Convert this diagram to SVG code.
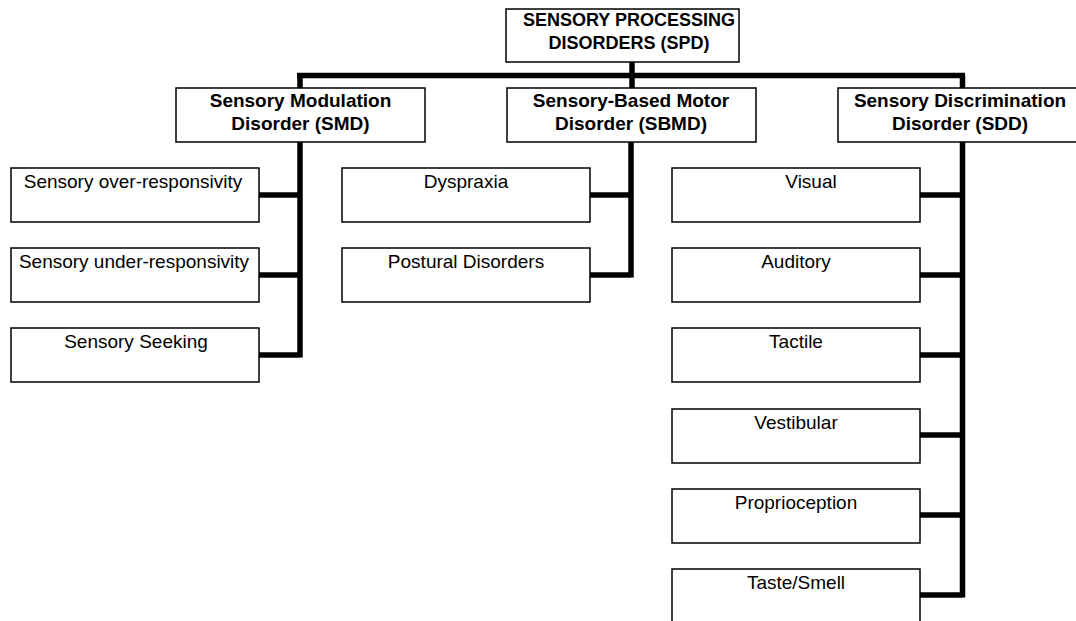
<svg xmlns="http://www.w3.org/2000/svg" width="1076" height="621" viewBox="0 0 1076 621">
<style>
.box{fill:#fff;stroke:#000;stroke-width:1.5}
.hd{font-family:"Liberation Sans",Arial,sans-serif;font-weight:bold;font-size:19px;fill:#000;text-anchor:middle}
.tx{font-family:"Liberation Sans",Arial,sans-serif;font-size:19px;fill:#000;text-anchor:middle}
.cn{fill:none;stroke:#000;stroke-width:5.5;stroke-linecap:butt;stroke-linejoin:miter}
</style>
<rect width="1076" height="621" fill="#fff"/>
<g id="connectors">
<path class="cn" d="M632 62V75.5M297 75.5H965M300 75.5V88M632 75.5V88M962.5 75.5V88"/>
<path class="cn" d="M300 142V357.5M259 195H300M259 275H300M259 355H300"/>
<path class="cn" d="M631 142V277.5M590 195H631M590 275H631"/>
<path class="cn" d="M962.5 142V597.5M920 195H962.5M920 275H962.5M920 355H962.5M920 435H962.5M920 515H962.5M920 595H962.5"/>
</g>
<g id="spd"><rect class="box" x="506" y="9" width="233" height="53"/><text class="hd" font-size="18" x="629" y="26" style="font-size:18px">SENSORY PROCESSING</text><text class="hd" x="629" y="49" style="font-size:18px">DISORDERS (SPD)</text></g>
<g id="smd"><rect class="box" x="176" y="88" width="249" height="54"/><text class="hd" x="300.5" y="107">Sensory Modulation</text><text class="hd" x="300.5" y="130">Disorder (SMD)</text></g>
<g id="sbmd"><rect class="box" x="507" y="88" width="249" height="54"/><text class="hd" x="631" y="107">Sensory-Based Motor</text><text class="hd" x="631" y="130">Disorder (SBMD)</text></g>
<g id="sdd"><rect class="box" x="838" y="88" width="249" height="54"/><text class="hd" x="960" y="107">Sensory Discrimination</text><text class="hd" x="960" y="130">Disorder (SDD)</text></g>
<g id="over"><rect class="box" x="11" y="168" width="248" height="54"/><text class="tx" x="133" y="188">Sensory over-responsivity</text></g>
<g id="under"><rect class="box" x="11" y="248" width="248" height="54"/><text class="tx" x="134" y="268">Sensory under-responsivity</text></g>
<g id="seeking"><rect class="box" x="11" y="328" width="248" height="54"/><text class="tx" x="136" y="348">Sensory Seeking</text></g>
<g id="dyspraxia"><rect class="box" x="342" y="168" width="248" height="54"/><text class="tx" x="466" y="188">Dyspraxia</text></g>
<g id="postural"><rect class="box" x="342" y="248" width="248" height="54"/><text class="tx" x="466" y="268">Postural Disorders</text></g>
<g id="visual"><rect class="box" x="672" y="168" width="248" height="54"/><text class="tx" x="811" y="188">Visual</text></g>
<g id="auditory"><rect class="box" x="672" y="248" width="248" height="54"/><text class="tx" x="796" y="268">Auditory</text></g>
<g id="tactile"><rect class="box" x="672" y="328" width="248" height="54"/><text class="tx" x="796" y="348">Tactile</text></g>
<g id="vestibular"><rect class="box" x="672" y="409" width="248" height="54"/><text class="tx" x="796" y="429">Vestibular</text></g>
<g id="proprioception"><rect class="box" x="672" y="489" width="248" height="54"/><text class="tx" x="796" y="509">Proprioception</text></g>
<g id="taste"><rect class="box" x="672" y="569" width="248" height="60"/><text class="tx" x="796" y="589">Taste/Smell</text></g>
</svg>
